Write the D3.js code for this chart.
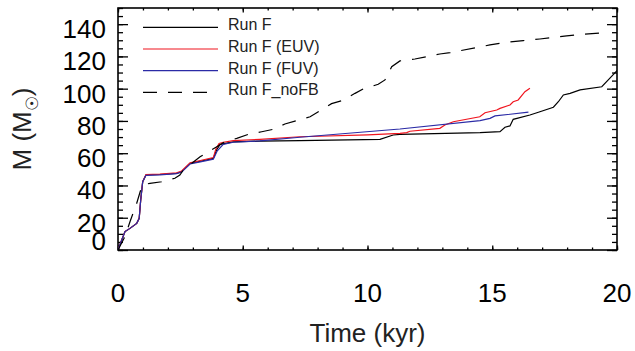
<!DOCTYPE html>
<html>
<head>
<meta charset="utf-8">
<script src="https://cdn.jsdelivr.net/npm/d3@7"></script>
<style>
  body { margin: 0; background: #fff; }
  text { font-family: "Liberation Sans", Arial, Helvetica, sans-serif; }
</style>
</head>
<body>
<div id="chart"></div>
<script>
// Run F
const tF = [0, 0.15, 0.28, 0.48, 0.75, 0.85, 0.91, 0.99, 1.12, 1.68, 2.35, 2.55, 2.89, 3.3, 3.82, 3.95, 4.09, 4.62, 5.69, 7.29, 10.5, 11.03, 11.3, 14.51, 15.31, 15.51, 15.71, 15.84, 16.51, 16.85, 17.45, 17.65, 17.85, 18.12, 18.52, 19.39, 19.65, 20.0];
const mF = [0, 6.2, 11.4, 13.4, 16.5, 19.6, 31, 42.3, 46.5, 46.8, 47.5, 48.5, 53.7, 55, 56.8, 62, 65.5, 67, 67.5, 67.8, 68.6, 71.3, 71.7, 72.7, 73.4, 76.1, 76.9, 81, 83.7, 85.4, 88.5, 91.9, 96.1, 97.1, 99.2, 101.2, 105.4, 111.2];
// Run F (EUV)
const tEUV = [0, 0.15, 0.28, 0.48, 0.75, 0.85, 0.91, 0.99, 1.12, 1.68, 2.35, 2.55, 2.89, 3.3, 3.82, 3.92, 4.05, 4.22, 4.62, 5.69, 7.29, 10.0, 11.3, 11.57, 11.7, 12.9, 13.1, 13.44, 14.5, 14.71, 15.18, 15.31, 15.71, 15.84, 16.04, 16.31, 16.51];
const mEUV = [0, 6.2, 11.4, 13.4, 16.5, 19.6, 31, 42.3, 46.8, 47.0, 47.8, 49, 54, 55.5, 57.3, 62.5, 66, 66.8, 67.8, 68.6, 70.2, 71.4, 72.3, 72.8, 73.6, 75.4, 77.5, 79.5, 82.6, 85.1, 86.8, 87.8, 89.9, 91.9, 93, 98.1, 100.2];
// Run F (FUV)
const tFUV = [0, 0.15, 0.28, 0.48, 0.75, 0.85, 0.91, 0.99, 1.12, 1.68, 2.35, 2.55, 2.89, 3.3, 3.82, 3.98, 4.22, 4.62, 5.69, 7.29, 11.3, 14.51, 14.91, 15.11, 16.45];
const mFUV = [0, 6.2, 11.4, 13.4, 16.5, 19.6, 31, 42.3, 46.3, 46.6, 47.3, 48.3, 53.3, 54.6, 56.3, 61.5, 65.5, 66.8, 67.6, 69.9, 75, 80.2, 81.6, 83.1, 85.4];
// Run F_noFB
const tNoFB = [0, 0.28, 0.48, 0.75, 0.91, 1.01, 1.28, 1.75, 2.28, 2.48, 2.62, 3.29, 3.96, 4.22, 4.76, 5.22, 5.76, 6.22, 6.69, 7.16, 7.7, 8.03, 8.56, 9.03, 9.5, 9.83, 10.43, 10.7, 10.97, 11.3, 11.9, 12.37, 12.9, 13.31, 14.91, 15.44, 16.24, 16.91, 17.98, 18.52, 19.45, 19.55];
const mNoFB = [0, 8.3, 17.5, 29, 37.2, 40.5, 41.3, 42.3, 44.5, 46.5, 49.6, 57.8, 64, 66.5, 69.2, 71.7, 73.3, 74.8, 78.1, 80.2, 82.6, 85.7, 90.7, 92.8, 97.1, 99.8, 102.7, 105.4, 113.6, 117.2, 118.4, 119.8, 121.5, 122.3, 127.1, 128.5, 129.8, 130.8, 132.7, 133.5, 134.7, 135];

const xTicks = [0, 5, 10, 15, 20];
const yTicks = [0, 20, 40, 60, 80, 100, 120, 140];
const legendLabels = ['Run F', 'Run F (EUV)', 'Run F (FUV)', 'Run F_noFB'];

const series = [
  {t: tF, m: mF, color: '#000', dash: null},
  {t: tEUV, m: mEUV, color: '#f0141e', dash: null},
  {t: tFUV, m: mFUV, color: '#2b2ba6', dash: null},
  {t: tNoFB, m: mNoFB, color: '#000', dash: '14,11'}
];

const margin = {top: 8, right: 18, bottom: 101, left: 118};
const width = 635 - margin.left - margin.right,
      height = 351 - margin.top - margin.bottom;

const svg = d3.select('#chart').append('svg')
    .attr('width', 635)
    .attr('height', 351)
    .append('g')
    .attr('transform', `translate(${margin.left}, ${margin.top})`);

const xScale = d3.scaleLinear().domain([0, 20]).range([0, width]);
const yScale = d3.scaleLinear().domain([0, 150]).range([height, 0]);

svg.append('clipPath').attr('id', 'clip')
  .append('rect').attr('width', width).attr('height', height);

// minor ticks
const addTicks = (axis, values, size, transform) => {
  svg.append('g')
    .attr('class', 'axis')
    .attr('transform', transform)
    .call(axis.tickValues(values).tickSize(-size).tickSizeOuter(0).tickFormat(''))
    .call(g => g.select('.domain').remove())
    .call(g => g.selectAll('line').attr('stroke', '#000').attr('stroke-width', 1.3));
};
const xMinor = d3.range(0, 21, 1), yMinor = d3.range(0, 151, 5);
addTicks(d3.axisBottom(xScale), xMinor, 2.5, `translate(0,${height})`);
addTicks(d3.axisTop(xScale), xMinor, 2.5, 'translate(0,0)');
addTicks(d3.axisLeft(yScale), yMinor, 5, 'translate(0,0)');
addTicks(d3.axisRight(yScale), yMinor, 5, `translate(${width},0)`);
addTicks(d3.axisBottom(xScale), xTicks, 4.5, `translate(0,${height})`);
addTicks(d3.axisTop(xScale), xTicks, 4.5, 'translate(0,0)');
addTicks(d3.axisLeft(yScale), yTicks, 10, 'translate(0,0)');
addTicks(d3.axisRight(yScale), yTicks, 10, `translate(${width},0)`);

// tick labels
svg.append('g').selectAll('text')
  .data(xTicks).enter().append('text')
  .attr('x', d => xScale(d))
  .attr('y', height + 52)
  .attr('text-anchor', 'middle')
  .attr('font-size', 26)
  .attr('fill', '#000')
  .text(d => d);

svg.append('g').selectAll('text')
  .data(yTicks).enter().append('text')
  .attr('x', -12)
  .attr('y', d => d === 0 ? yScale(d) : yScale(d) + 14)
  .attr('text-anchor', 'end')
  .attr('font-size', 26)
  .attr('fill', '#000')
  .text(d => d);

// frame
svg.append('rect')
  .attr('width', width).attr('height', height)
  .attr('fill', 'none').attr('stroke', '#000').attr('stroke-width', 1.6);

// lines
const line = d3.line().x(d => xScale(d[0])).y(d => yScale(d[1]));
svg.append('g').attr('clip-path', 'url(#clip)')
  .selectAll('path')
  .data(series).enter().append('path')
  .attr('d', s => line(s.t.map((t, i) => [t, s.m[i]])))
  .attr('fill', 'none')
  .attr('stroke', s => s.color)
  .attr('stroke-width', 1.2)
  .attr('stroke-dasharray', s => s.dash);

// legend
const legend = svg.append('g').selectAll('g')
  .data(series).enter().append('g')
  .attr('transform', (d, i) => `translate(0, ${19.3 + i * 21.7})`);
legend.append('line')
  .attr('x1', 25).attr('x2', 100)
  .attr('stroke', d => d.color)
  .attr('stroke-width', 1.2)
  .attr('stroke-dasharray', d => d.dash);
legend.append('text')
  .attr('x', 110).attr('y', 2.8)
  .attr('font-size', 16)
  .attr('fill', '#222')
  .text((d, i) => legendLabels[i]);

// axis titles
svg.append('text')
  .attr('x', width / 2).attr('y', height + 92)
  .attr('text-anchor', 'middle')
  .attr('font-size', 26)
  .attr('fill', '#222')
  .text('Time (kyr)');

const yTitle = svg.append('text')
  .attr('transform', `translate(${-87}, ${height / 2}) rotate(-90)`)
  .attr('text-anchor', 'middle')
  .attr('font-size', 26)
  .attr('fill', '#222');
yTitle.append('tspan').text('M (M');
yTitle.append('tspan').attr('font-size', 17).attr('dy', 7).text('\u2609');
yTitle.append('tspan').attr('dy', -7).text(')');
</script>
</body>
</html>
